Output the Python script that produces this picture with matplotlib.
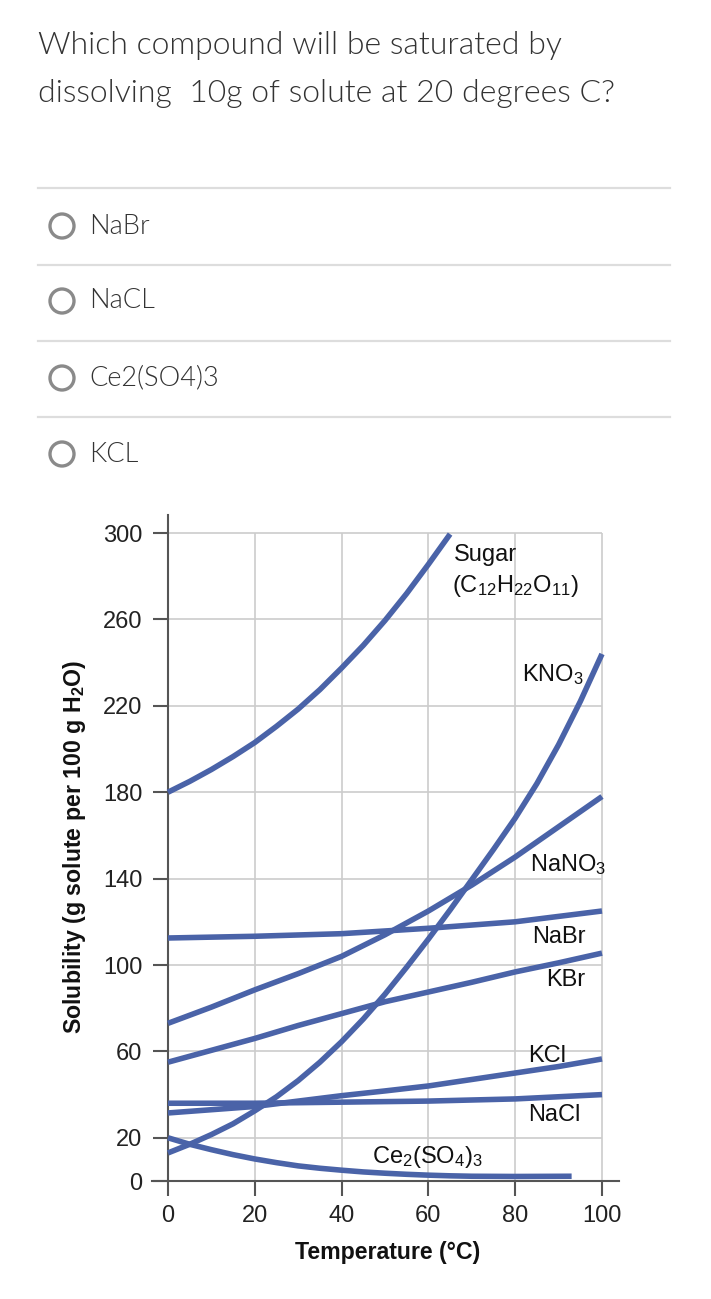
import matplotlib
matplotlib.use("Agg")
import matplotlib.pyplot as plt
from matplotlib.patches import Circle
from matplotlib.lines import Line2D

# question and answer options
question = ["Which compound will be saturated by",
            "dissolving  10g of solute at 20 degrees C?"]
options = ["NaBr", "NaCL", "Ce2(SO4)3", "KCL"]

# solubility curves (g solute per 100 g water)
sugar_t = [0, 5, 10, 15, 20, 25, 30, 35, 40, 45, 50, 55, 60, 65]
sugar_v = [180, 185, 190.5, 196.5, 203, 210.5, 218.5, 227.5, 237.5, 248, 259.5, 272, 285.5, 299.5]

kno3_t = [0, 5, 10, 15, 20, 25, 30, 35, 40, 45, 50, 55, 60, 65, 70, 75, 80, 85, 90, 95, 100]
kno3_v = [13, 17, 21.5, 26.5, 32.5, 39, 46.5, 55, 64.5, 75, 86.5, 99, 112, 125.5, 139.5, 153.5, 168, 184, 202, 222, 244]

nano3_t = [0, 10, 20, 30, 40, 50, 60, 70, 80, 90, 100]
nano3_v = [73, 80.5, 88.5, 96, 104, 114, 125, 137, 150, 164, 178]

nabr_t = [0, 20, 40, 60, 80, 100]
nabr_v = [112.5, 113.3, 114.5, 117, 120, 125]

kbr_t = [0, 10, 20, 30, 40, 50, 60, 70, 80, 90, 100]
kbr_v = [55, 60.5, 66, 72, 77.5, 83, 87.5, 92, 96.8, 101, 105.5]

kcl_t = [0, 10, 20, 30, 40, 50, 60, 70, 80, 90, 100]
kcl_v = [31.5, 33, 34.5, 37, 39.5, 41.7, 44, 47, 50, 53, 56.5]

nacl_t = [0, 20, 40, 60, 80, 100]
nacl_v = [36, 36, 36.5, 37, 38, 40]

ce_t = [0, 5, 10, 15, 20, 25, 30, 35, 40, 45, 50, 55, 60, 65, 70, 80, 93]
ce_v = [20, 17, 14.5, 12.2, 10.2, 8.5, 7, 5.9, 5, 4.2, 3.6, 3.1, 2.7, 2.4, 2.2, 2.1, 2.2]

x_ticks = [0, 20, 40, 60, 80, 100]
y_ticks = [0, 20, 60, 100, 140, 180, 220, 260, 300]

curves = [(sugar_t, sugar_v), (kno3_t, kno3_v), (nano3_t, nano3_v),
          (nabr_t, nabr_v), (kbr_t, kbr_v), (kcl_t, kcl_v),
          (nacl_t, nacl_v), (ce_t, ce_v)]

# curve labels: text, x pixel, baseline pixel
curve_labels = [("Sugar", 454, 561),
                (r"(C$_{12}$H$_{22}$O$_{11}$)", 452, 592),
                (r"KNO$_3$", 522, 681),
                (r"NaNO$_3$", 530, 871),
                ("NaBr", 532, 943),
                ("KBr", 546, 986),
                ("KCl", 528, 1062),
                ("NaCl", 528, 1121),
                (r"Ce$_2$(SO$_4$)$_3$", 372, 1163)]

plt.rcParams['mathtext.fontset'] = 'custom'
plt.rcParams['mathtext.rm'] = 'Liberation Sans'
plt.rcParams['mathtext.it'] = 'Liberation Sans:italic'
plt.rcParams['mathtext.bf'] = 'Liberation Sans:bold'

W, H = 711, 1299
fig = plt.figure(figsize=(W / 100, H / 100), dpi=100)

def fx(x):
    return x / W

def fy(y):
    return 1 - y / H

# ---- question header ----
qfont = dict(family='Lato', fontweight=300, color='#333333')
fig.text(fx(38), fy(45), question[0], fontsize=23, va='center', **qfont)
fig.text(fx(38), fy(93), question[1], fontsize=23, va='center', **qfont)

for y in [188, 265, 341, 417]:
    fig.add_artist(Line2D([fx(38), fx(670)], [fy(y), fy(y)],
                          transform=fig.transFigure, color='#dddddd', lw=1.6))

for i, opt in enumerate(options):
    cy = [226, 301, 378, 454][i]
    fig.add_artist(Circle((62 / 100, (H - cy) / 100), 0.12,
                          transform=fig.dpi_scale_trans, facecolor='white',
                          edgecolor='#8a8a8a', lw=2.4))
    fig.text(fx(89), fy(cy), opt, fontsize=19.5, va='center', **qfont)

# ---- chart ----
x0_px, x100_px = 168, 602
y0_px, y300_px = 1181, 533
sx = (x100_px - x0_px) / 100
sy = (y0_px - y300_px) / 300
ax_l, ax_r, ax_t = 152, 619, 515
ax = fig.add_axes([fx(ax_l), 1 - y0_px / H, (ax_r - ax_l) / W, (y0_px - ax_t) / H])
ax.set_xlim((ax_l - x0_px) / sx, (ax_r - x0_px) / sx)
ax.set_ylim(0, (y0_px - ax_t) / sy)
ax.patch.set_alpha(0)

ax.hlines(y_ticks[1:], 0, 100, color='#cccccc', lw=1.2, zorder=1)
ax.vlines(x_ticks[1:], 0, 300, color='#cccccc', lw=1.2, zorder=1)

for t, v in curves:
    ax.plot(t, v, color='#4a63a8', lw=4, solid_capstyle='butt',
            solid_joinstyle='round', zorder=3, clip_on=False)

for s in ['top', 'right']:
    ax.spines[s].set_visible(False)
ax.spines['left'].set_position(('data', 0))
ax.spines['bottom'].set_position(('data', 0))
for s in ['left', 'bottom']:
    ax.spines[s].set_color('#555555')
    ax.spines[s].set_linewidth(1.5)
    ax.spines[s].set_zorder(2)

ax.set_xticks(x_ticks)
ax.set_yticks(y_ticks)
ax.tick_params(direction='out', length=11, width=1.5, color='#555555',
               labelsize=17, labelcolor='#222222')
ax.tick_params(axis='y', pad=7.5)
ax.tick_params(axis='x', pad=6.5)
for lab in ax.get_xticklabels() + ax.get_yticklabels():
    lab.set_family('Liberation Sans')

for text, px, py in curve_labels:
    ax.text((px - x0_px) / sx, (y0_px - py) / sy, text, fontsize=17,
            family='Liberation Sans', color='#111111', va='baseline', ha='left')

fig.text(fx(388), fy(1253), "Temperature (°C)", fontsize=16.7, fontweight='bold',
         family='Liberation Sans', ha='center', va='center', color='#111111')
fig.text(fx(75), fy(847), r"Solubility (g solute per 100 g H$_\mathbf{2}$O)",
         fontsize=16.7, fontweight='bold', family='Liberation Sans', rotation=90,
         ha='center', va='center', color='#111111')

fig.savefig("out.png", dpi=100)
